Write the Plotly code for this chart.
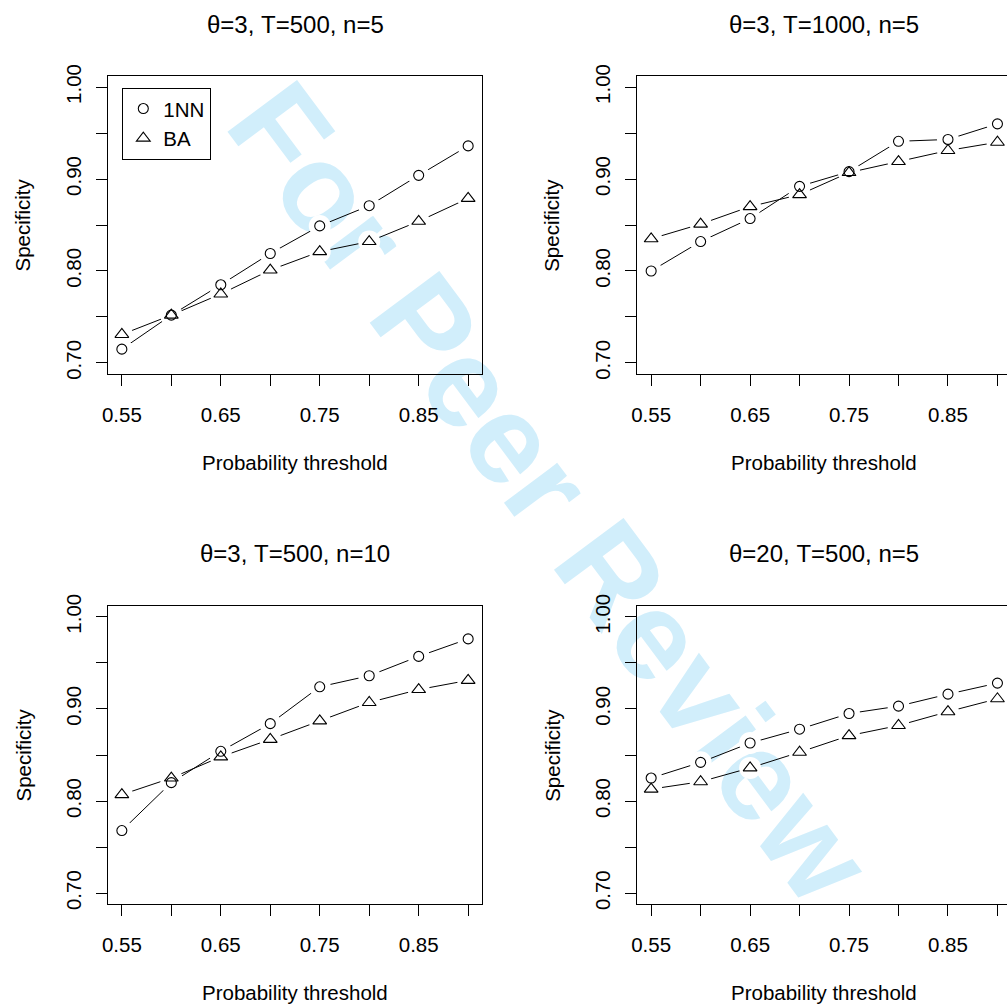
import plotly.graph_objects as go

# ---------------- data ----------------
thresholds = [0.55, 0.60, 0.65, 0.70, 0.75, 0.80, 0.85, 0.90]

nn_p1 = [0.715, 0.752, 0.785, 0.819, 0.849, 0.871, 0.904, 0.936]
ba_p1 = [0.731, 0.752, 0.775, 0.801, 0.821, 0.832, 0.854, 0.879]

nn_p2 = [0.800, 0.832, 0.857, 0.892, 0.908, 0.941, 0.943, 0.960]
ba_p2 = [0.835, 0.851, 0.870, 0.883, 0.907, 0.919, 0.931, 0.940]

nn_p3 = [0.768, 0.820, 0.854, 0.884, 0.924, 0.936, 0.957, 0.976]
ba_p3 = [0.807, 0.825, 0.848, 0.867, 0.887, 0.907, 0.921, 0.931]

nn_p4 = [0.825, 0.842, 0.863, 0.878, 0.895, 0.903, 0.916, 0.928]
ba_p4 = [0.813, 0.821, 0.836, 0.853, 0.871, 0.882, 0.897, 0.911]

panel_titles = ["θ=3, T=500, n=5", "θ=3, T=1000, n=5",
                "θ=3, T=500, n=10", "θ=20, T=500, n=5"]
series_names = ["1NN", "BA"]

x_tickvals = [0.55, 0.60, 0.65, 0.70, 0.75, 0.80, 0.85, 0.90]
x_ticktext = ["0.55", "", "0.65", "", "0.75", "", "0.85", ""]
y_tickvals = [0.70, 0.75, 0.80, 0.85, 0.90, 0.95, 1.00]
y_ticktext = ["0.70", "", "0.80", "", "0.90", "", "1.00"]

x_title = "Probability threshold"
y_title = "Specificity"
watermark = "For Peer Review"

# ---------------- layout geometry (pixels) ----------------
W, H = 1007, 1005
FONT = "Liberation Sans, Arial, Helvetica, sans-serif"

def px_x(p):
    return p / W

def px_y(p):
    return 1 - p / H

left_box = (108, 482)
right_box = (637.3, 1007)
top_box = (76, 374)
bot_box = (605.7, 904.3)

panels = [
    (left_box, top_box, nn_p1, ba_p1, True),
    (right_box, top_box, nn_p2, ba_p2, False),
    (left_box, bot_box, nn_p3, ba_p3, True),
    (right_box, bot_box, nn_p4, ba_p4, False),
]

px_per_unit_x = (482 - 108) / (0.914 - 0.536)
Y_RANGE = [0.688, 1.012]

fig = go.Figure()
layout = dict(
    width=W, height=H, autosize=False,
    margin=dict(l=0, r=0, t=0, b=0, pad=0),
    paper_bgcolor="white", plot_bgcolor="rgba(0,0,0,0)",
    template="none",
    showlegend=True,
    font=dict(family=FONT, size=20.5, color="black"),
)

annotations = []
for i, (bx, by, nn, ba, full) in enumerate(panels):
    k = "" if i == 0 else str(i + 1)
    ko = str(i + 5)                       # overlay axes for the point layer
    xa, ya = "x" + k, "y" + k
    xo, yo = "x" + ko, "y" + ko
    x_range = [0.536, 0.914 if full else 0.536 + (bx[1] - bx[0]) / px_per_unit_x]
    xdom = [px_x(bx[0]), px_x(bx[1])]
    ydom = [px_y(by[1]), px_y(by[0])]
    layout["xaxis" + k] = dict(
        domain=xdom, anchor=ya, range=x_range,
        tickmode="array", tickvals=x_tickvals, ticktext=x_ticktext,
        ticks="outside", ticklen=11, tickwidth=1, tickcolor="black",
        showline=True, linecolor="black", linewidth=1, mirror=True,
        showgrid=False, zeroline=False, ticklabelstandoff=11,
        tickfont=dict(family=FONT, size=20.5, color="black"),
    )
    layout["yaxis" + k] = dict(
        domain=ydom, anchor=xa, range=Y_RANGE,
        tickmode="array", tickvals=y_tickvals, ticktext=y_ticktext,
        ticks="outside", ticklen=11, tickwidth=1, tickcolor="black",
        showline=True, linecolor="black", linewidth=1, mirror=full,
        showgrid=False, zeroline=False, tickangle=-90, ticklabelstandoff=7,
        tickfont=dict(family=FONT, size=20.5, color="black"),
    )
    layout["xaxis" + ko] = dict(domain=xdom, anchor=yo, range=x_range, overlaying=xa,
                                visible=False, showgrid=False, zeroline=False)
    layout["yaxis" + ko] = dict(domain=ydom, anchor=xo, range=Y_RANGE, overlaying=ya,
                                visible=False, showgrid=False, zeroline=False)
    # connecting lines (base layer)
    for vals in (nn, ba):
        fig.add_trace(go.Scatter(x=thresholds, y=vals, mode="lines", xaxis=xa, yaxis=ya,
                                 line=dict(color="black", width=1), showlegend=False,
                                 hoverinfo="skip"))
    # gaps around points (R type="b"), on the overlay layer
    for vals in (nn, ba):
        fig.add_trace(go.Scatter(x=thresholds, y=vals, mode="markers", xaxis=xo, yaxis=yo,
                                 marker=dict(symbol="circle", size=22, color="white",
                                             line=dict(width=0)),
                                 showlegend=False, hoverinfo="skip"))
    # point symbols
    fig.add_trace(go.Scatter(x=thresholds, y=nn, mode="markers", xaxis=xo, yaxis=yo,
                             marker=dict(symbol="circle-open", size=10, color="black",
                                         line=dict(width=1.1, color="black")),
                             showlegend=False, name=series_names[0]))
    fig.add_trace(go.Scatter(x=thresholds, y=ba, mode="markers", xaxis=xo, yaxis=yo,
                             marker=dict(symbol="triangle-up-open", size=12, color="black",
                                         line=dict(width=1.1, color="black")),
                             showlegend=False, name=series_names[1]))
    cx = bx[0] + 187
    annotations.append(dict(text=panel_titles[i], x=px_x(cx), y=px_y(by[0] - 52),
                            xref="paper", yref="paper", showarrow=False,
                            xanchor="center", yanchor="middle",
                            font=dict(family=FONT, size=24, color="black")))
    annotations.append(dict(text=x_title, x=px_x(cx), y=px_y(by[1] + 88.5),
                            xref="paper", yref="paper", showarrow=False,
                            xanchor="center", yanchor="middle",
                            font=dict(family=FONT, size=20.5, color="black")))
    annotations.append(dict(text=y_title, x=px_x(bx[0] - 85.5), y=px_y((by[0] + by[1]) / 2),
                            xref="paper", yref="paper", showarrow=False, textangle=-90,
                            xanchor="center", yanchor="middle",
                            font=dict(family=FONT, size=20.5, color="black")))

# legend-only entries (symbols only, like R legend)
fig.add_trace(go.Scatter(x=[None], y=[None], mode="markers", name=series_names[0],
                         marker=dict(symbol="circle-open", size=10, color="black",
                                     line=dict(width=1.1, color="black"))))
fig.add_trace(go.Scatter(x=[None], y=[None], mode="markers", name=series_names[1],
                         marker=dict(symbol="triangle-up-open", size=12, color="black",
                                     line=dict(width=1.1, color="black"))))

layout["legend"] = dict(x=px_x(122.3), y=px_y(87.7), xanchor="left", yanchor="top",
                        bordercolor="black", borderwidth=1, bgcolor="white",
                        font=dict(family=FONT, size=20.5, color="black"),
                        tracegroupgap=0, itemwidth=30)

layout["annotations"] = annotations

# watermark behind everything
wx, wy = 560, 485
layout["shapes"] = [dict(
    type="rect", xref="paper", yref="paper",
    x0=px_x(wx - 2), x1=px_x(wx + 2), y0=px_y(wy + 2), y1=px_y(wy - 2),
    line=dict(width=0), fillcolor="rgba(0,0,0,0)", layer="below",
    label=dict(text=watermark, textangle=53.3, textposition="middle center",
               font=dict(family=FONT, size=126, color="rgb(209,238,251)", weight="bold")),
)]

fig.update_layout(**layout)
fig.write_html("out.html")
